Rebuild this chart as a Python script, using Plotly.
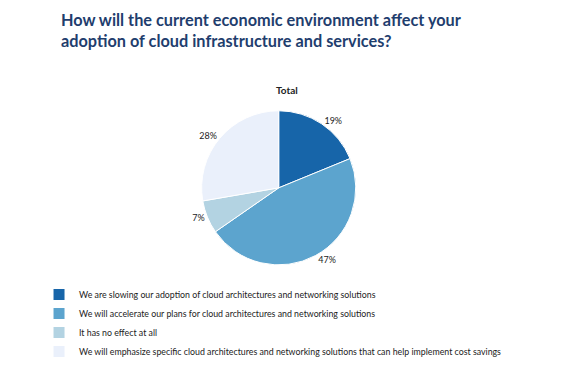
import plotly.graph_objects as go

categories = [
    "We are slowing our adoption of cloud architectures and networking solutions",
    "We will accelerate our plans for cloud architectures and networking solutions",
    "It has no effect at all",
    "We will emphasize specific cloud architectures and networking solutions that can help implement cost savings",
]
values = [19, 47, 7, 28]
colors = ["#1765a9", "#5ca4ce", "#b3d3e2", "#eaf0fb"]

title_text = "How will the current economic environment affect your<br>adoption of cloud infrastructure and services?"
subtitle = "Total"

fig = go.Figure(go.Pie(
    labels=categories,
    values=values,
    sort=False,
    direction="clockwise",
    rotation=0,
    marker=dict(colors=colors, line=dict(color="white", width=1)),
    texttemplate="%{value}%",
    textposition="outside",
    textfont=dict(family="Lato", size=9, color="#222222"),
    hoverinfo="label+value",
    domain=dict(x=[0.29, 0.67], y=[0.30, 0.72]),
))

fig.update_layout(
    width=564, height=367,
    margin=dict(l=0, r=0, t=0, b=0),
    paper_bgcolor="white",
    plot_bgcolor="white",
    font=dict(family="Lato", color="#222222"),
    showlegend=True,
    legend=dict(
        x=0.055, y=1 - 272 / 367, xanchor="left", yanchor="top",
        font=dict(family="Lato", size=8.8, color="#222222"),
        itemwidth=30, tracegroupgap=0,
        bgcolor="rgba(0,0,0,0)",
    ),
)
fig.add_annotation(
    text="<b>" + title_text + "</b>", xref="paper", yref="paper",
    x=51 / 564, y=1.0, xanchor="left", yanchor="top", align="left",
    showarrow=False, font=dict(family="Lato", size=16.3, color="#1f3e6e"),
)
fig.add_annotation(
    text="<b>" + subtitle + "</b>", xref="paper", yref="paper",
    x=279 / 564, y=1 - 82 / 367, xanchor="center", yanchor="middle",
    showarrow=False, font=dict(family="Lato", size=10, color="#222222"),
)

fig.write_html("out.html")
